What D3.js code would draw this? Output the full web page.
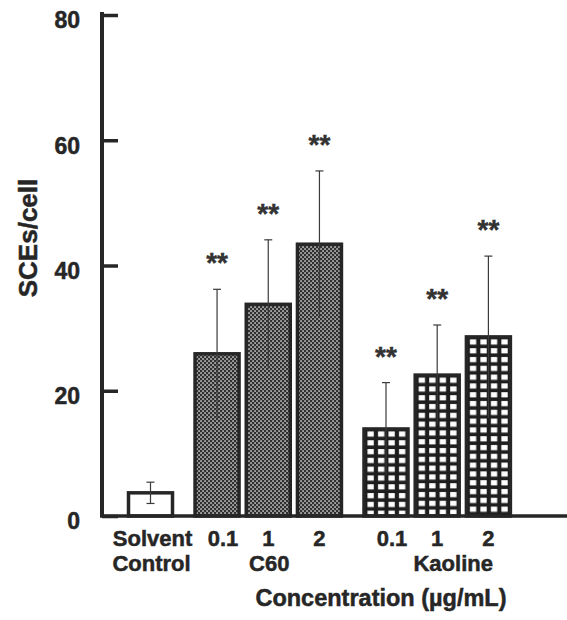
<!DOCTYPE html>
<html><head><meta charset="utf-8">
<script src="https://cdn.jsdelivr.net/npm/d3@7"></script>
<style>
html,body{margin:0;padding:0;background:#fff;}
svg{display:block;font-family:"Liberation Sans",Arial,sans-serif;}
</style></head>
<body>
<svg id="chart" width="567" height="620"></svg>
<script>
// ---- data ----
const groups = ["Solvent Control", "C60", "Kaoline"];
const doseLabels = ["", "0.1", "1", "2", "0.1", "1", "2"];
const groupOfBar = [0, 1, 1, 1, 2, 2, 2];
const means = [3.7, 25.9, 33.8, 43.4, 13.9, 22.5, 28.6];
const sds = [1.7, 10.3, 10.3, 11.7, 7.4, 8.0, 12.9];
const significant = [false, true, true, true, true, true, true];
const yTicks = [0, 20, 40, 60, 80];
const yLabel = "SCEs/cell";
const xLabel = "Concentration (\u00b5g/mL)";

// ---- layout ----
const svg = d3.select("#chart");
const ink = "#262626";
const groupGap = 0.3;
const slot = means.map((d, i) => i + groupOfBar[i] * groupGap);
const x = d3.scaleLinear().domain([0, d3.max(slot)]).range([150.5, 488.4]);
const y = d3.scaleLinear().domain([0, 80]).range([516, 15]);
const barW = 44;
const axisX = 102;

const defs = svg.append("defs");
// C60: fine dotted pattern
const pc = defs.append("pattern").attr("id", "dots")
  .attr("patternUnits", "userSpaceOnUse").attr("width", 4).attr("height", 4);
pc.append("rect").attr("width", 4).attr("height", 4).attr("fill", "#303030");
pc.append("rect").attr("x", 0.3).attr("y", 0.3).attr("width", 1.5).attr("height", 1.5).attr("fill", "#e0e0e0");
pc.append("rect").attr("x", 2.3).attr("y", 2.3).attr("width", 1.5).attr("height", 1.5).attr("fill", "#e0e0e0");

// Kaoline: grid pattern per bar (aligned to bar)
means.forEach((m, i) => {
  if (groupOfBar[i] !== 2) return;
  const bx = x(slot[i]) - barW / 2, by = y(m);
  const p = defs.append("pattern").attr("id", "grid" + i)
    .attr("patternUnits", "userSpaceOnUse")
    .attr("x", bx + 0.5).attr("y", by - 0.5)
    .attr("width", 10.5).attr("height", 8.8);
  p.append("rect").attr("width", 10.5).attr("height", 8.8).attr("fill", "#1e1e1e");
  p.append("rect").attr("x", 3).attr("y", 3).attr("width", 6.3).attr("height", 5.2).attr("fill", "#fff");
});

const fillFor = i => groupOfBar[i] === 0 ? "#fff" : groupOfBar[i] === 1 ? "url(#dots)" : `url(#grid${i})`;
const idx = means.map((d, i) => i);

// bars
svg.append("g").selectAll("rect").data(idx).join("rect")
  .attr("x", i => x(slot[i]) - barW / 2)
  .attr("y", i => y(means[i]))
  .attr("width", barW)
  .attr("height", i => y(0) - y(means[i]))
  .attr("fill", i => fillFor(i))
  .attr("stroke", ink).attr("stroke-width", 3.5);

// error bars
const eb = svg.append("g").attr("stroke", "#3a3a3a").attr("stroke-width", 1.2);
idx.forEach(i => {
  const m = means[i], cx = x(slot[i]);
  eb.append("line").attr("x1", cx).attr("x2", cx).attr("y1", y(m + sds[i])).attr("y2", y(m - sds[i]));
  eb.append("line").attr("x1", cx - 4).attr("x2", cx + 4).attr("y1", y(m + sds[i])).attr("y2", y(m + sds[i]));
  if (groupOfBar[i] === 0)
    eb.append("line").attr("x1", cx - 4).attr("x2", cx + 4).attr("y1", y(m - sds[i])).attr("y2", y(m - sds[i]));
});

// significance stars
svg.append("g").selectAll("text").data(idx.filter(i => significant[i])).join("text")
  .attr("x", i => x(slot[i]))
  .attr("y", i => y(means[i] + sds[i]) - 17)
  .attr("text-anchor", "middle")
  .attr("font-size", 28).attr("font-weight", "bold").attr("fill", "#333")
  .attr("stroke", "#333").attr("stroke-width", 0.4)
  .text("**");

// y axis
const yAxis = d3.axisLeft(y).tickValues(yTicks).tickSizeInner(-16).tickSizeOuter(0).tickPadding(22);
const ga = svg.append("g").attr("transform", `translate(${axisX},0)`).call(yAxis);
ga.select(".domain").attr("stroke", ink).attr("stroke-width", 4).attr("d", `M0,${y(80) - 3}V${y(0)}`);
ga.selectAll(".tick line").attr("stroke", ink).attr("stroke-width", 3.5);
ga.selectAll(".tick text").attr("font-size", 23).attr("font-weight", "bold")
  .attr("fill", ink).attr("stroke", ink).attr("stroke-width", 0.5)
  .attr("font-family", "Liberation Sans, Arial, sans-serif").attr("dy", "0.56em");

// x baseline
svg.append("line").attr("x1", axisX - 2).attr("x2", 567).attr("y1", y(0)).attr("y2", y(0))
  .attr("stroke", ink).attr("stroke-width", 3.5);

// x labels
const tl = svg.append("g").attr("font-size", 22).attr("font-weight", "bold").attr("fill", ink)
  .attr("stroke", ink).attr("stroke-width", 0.5).attr("text-anchor", "middle");
doseLabels.forEach((t, i) => {
  if (!t) return;
  tl.append("text").attr("x", x(slot[i]) + (t === "0.1" ? 6 : 0)).attr("y", 546).text(t);
});
// group labels
const ctrlX = x(slot[0]);
tl.append("text").attr("x", ctrlX + 2).attr("y", 546).text("Solvent");
tl.append("text").attr("x", ctrlX + 1).attr("y", 571).text("Control");
const c60Mid = x(d3.mean(slot.filter((s, i) => groupOfBar[i] === 1)));
const kMid = x(d3.mean(slot.filter((s, i) => groupOfBar[i] === 2)));
tl.append("text").attr("x", c60Mid + 1).attr("y", 571).text(groups[1]);
tl.append("text").attr("x", kMid + 16).attr("y", 571).text(groups[2]);
tl.append("text").attr("x", 381).attr("y", 606).attr("font-size", 23.5).text(xLabel);

// y label
svg.append("text").attr("transform", "translate(37,238) rotate(-90)")
  .attr("text-anchor", "middle").attr("font-size", 26).attr("font-weight", "bold").attr("fill", ink)
  .attr("stroke", ink).attr("stroke-width", 0.5)
  .text(yLabel);
</script>
</body></html>
